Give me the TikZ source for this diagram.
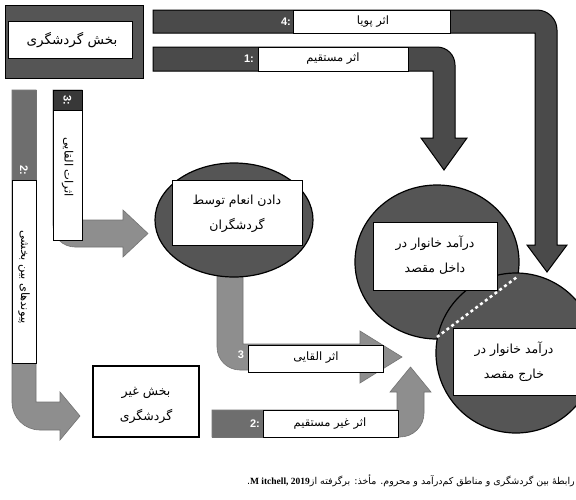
\documentclass[tikz,border=0pt]{standalone}
\usepackage{fontspec}
\newfontfamily\fa[Script=Arabic]{DejaVu Sans}
\newfontfamily\lab{Liberation Sans}
\newfontfamily\lat{Liberation Serif}
\TeXXeTstate=1
\definecolor{darkarr}{HTML}{4A4A4A}
\definecolor{lightarr}{HTML}{8E8E8E}
\definecolor{midarr}{HTML}{6E6E6E}
\definecolor{topdark}{HTML}{383838}
\definecolor{circfill}{HTML}{555555}
\definecolor{boxgray}{HTML}{555555}
\tikzset{
  darkarrow/.style={fill=darkarr, draw=black, line width=1pt},
  lightarrow/.style={fill=lightarr, draw=black!55, line width=0.6pt},
  whitebox/.style={fill=white, draw=black, line width=0.7pt},
  circshape/.style={fill=circfill, draw=black, line width=1.2pt},
  fatext/.style={font=\fa\fontsize{12.5}{25}\selectfont, align=center, text=black, inner sep=0pt},
  smalltext/.style={font=\fa\fontsize{11.5}{13}\selectfont, text=black, inner sep=0pt},
  numlab/.style={font=\lab\bfseries\fontsize{11}{12}\selectfont, text=white, inner sep=0pt},
}
\begin{document}
\begin{tikzpicture}[x=1pt,y=-1pt]
\clip (0,0) rectangle (576,499);
\fill[white] (0,0) rectangle (576,499);

% tourism sector box
\draw[fill=boxgray, draw=black, line width=1pt] (5,5) rectangle (143,78);
\draw[whitebox] (8,21) rectangle (132,58);
\node[fatext, font=\fa\fontsize{13.5}{16}\selectfont] (tour) at (72,40) {\beginR بخش گردشگری\endR};

% arrow 4 (dynamic effect)
\draw[darkarrow] (153,10) -- (537,10) .. controls (548,10) and (557,19) .. (557,30)
  -- (557,245) -- (567,245) -- (547,272) -- (527,245) -- (535,245) -- (535,33) -- (153,33) -- cycle;
\node[numlab] (n4) at (286,21.5) {4:};
\draw[whitebox] (293,10) rectangle (450,33);
\node[smalltext] (t4) at (373,21.5) {\beginR اثر پویا\endR};

% arrow 1 (direct effect)
\draw[darkarrow] (153,47) -- (437,47) .. controls (447,47) and (455,55) .. (455,65)
  -- (455,138) -- (467,138) -- (444,170) -- (421,138) -- (433,138) -- (433,71) -- (153,71) -- cycle;
\node[numlab] (n1) at (249,59) {1:};
\draw[whitebox] (258,47) rectangle (408,71);
\node[smalltext] (t1) at (333,59) {\beginR اثر مستقیم\endR};

% big left arrow 2 (inter-sector links)
\draw[lightarrow] (12,90) -- (36,90) -- (36,402) -- (60,402) -- (60,392) -- (80,416) -- (60,440) -- (60,430)
  -- (40,430) .. controls (24.5,430) and (12,417.5) .. (12,402) -- cycle;
\draw[fill=midarr, draw=black!55, line width=0.6pt] (12,90) rectangle (36,180);
\node[numlab, rotate=-90] (n2a) at (24,170) {2:};
\draw[whitebox] (12,180) rectangle (36,363);
\node[smalltext, rotate=-90] (t2a) at (24,277) {\beginR پیوندهای بین بخشی\endR};

% narrow left arrow 3 (induced effects)
\draw[lightarrow] (53,90) -- (82,90) -- (82,220) -- (123,220) -- (123,210) -- (148,233.5) -- (123,257) -- (123,247)
  -- (75,247) .. controls (62.8,247) and (53,237.2) .. (53,225) -- cycle;
\draw[fill=topdark, draw=black, line width=0.6pt] (53,90) rectangle (82,110);
\node[numlab, rotate=-90] (n3a) at (67.5,100) {3:};
\draw[whitebox] (53,110) rectangle (82,240);
\node[smalltext, rotate=-90] (t3a) at (67.5,167) {\beginR اثرات القایی\endR};

% arrow from ellipse down (induced effect)
\draw[lightarrow] (217,265) -- (243,265) -- (243,344) -- (360,344) -- (360,331) -- (402,357) -- (360,383) -- (360,370)
  -- (240,370) .. controls (227.3,370) and (217,359.7) .. (217,347) -- cycle;
\node[numlab] (n3b) at (241,355) {3};
\draw[whitebox] (248,345) rectangle (383,372);
\node[smalltext] (t3b) at (316,358) {\beginR اثر القایی\endR};

% ellipse: tipping
\draw[circshape] (234,220) ellipse [x radius=79, y radius=57];
\draw[whitebox] (172,180) rectangle (302,245);
\node[fatext] (tip) at (237,214) {\beginR دادن انعام توسط\endR\\\beginR گردشگران\endR};

% non-tourism box
\draw[fill=white, draw=black, line width=2.5pt] (93,366) rectangle (199,437);
\node[fatext] (nontour) at (146,405) {\beginR بخش غیر\endR\\\beginR گردشگری\endR};

% arrow 2 bottom (indirect effect)
\draw[lightarrow] (212,410) -- (397,410) -- (397,392) -- (390,392) -- (410.5,367) -- (431,392) -- (424,392)
  -- (424,413) .. controls (424,426.3) and (413.3,437) .. (400,437) -- (212,437) -- cycle;
\draw[fill=midarr, draw=black!55, line width=0.6pt] (212,410) rectangle (263,437);
\node[numlab] (n2b) at (255,423.5) {2:};
\draw[whitebox] (263,410) rectangle (398,437);
\node[smalltext] (t2b) at (330,424) {\beginR اثر غیر مستقیم\endR};

% circles: household income
\draw[circshape] (437,262) ellipse [x radius=82, y radius=77];
\draw[circshape] (516,353) circle [radius=80];
\draw[white, dashed, line width=2.5pt] (437,337) -- (517,277);
\draw[whitebox] (373,222) rectangle (497,290);
\node[fatext] (inc1) at (435,255) {\beginR درآمد خانوار در\endR\\\beginR داخل مقصد\endR};
\draw[whitebox] (453,328) rectangle (580,395);
\node[fatext] (inc2) at (514,362) {\beginR درآمد خانوار در\endR\\\beginR خارج مقصد\endR};

% caption
\node[anchor=east, font=\fa\fontsize{9.5}{11}\selectfont, inner sep=0pt] (cap) at (575,481)
  {\beginR رابطهٔ بین گردشگری و مناطق کم‌درآمد و محروم. مأخذ: برگرفته از\beginL{\lat\bfseries M itchell, 2019}\endL.\endR};
\end{tikzpicture}
\end{document}
